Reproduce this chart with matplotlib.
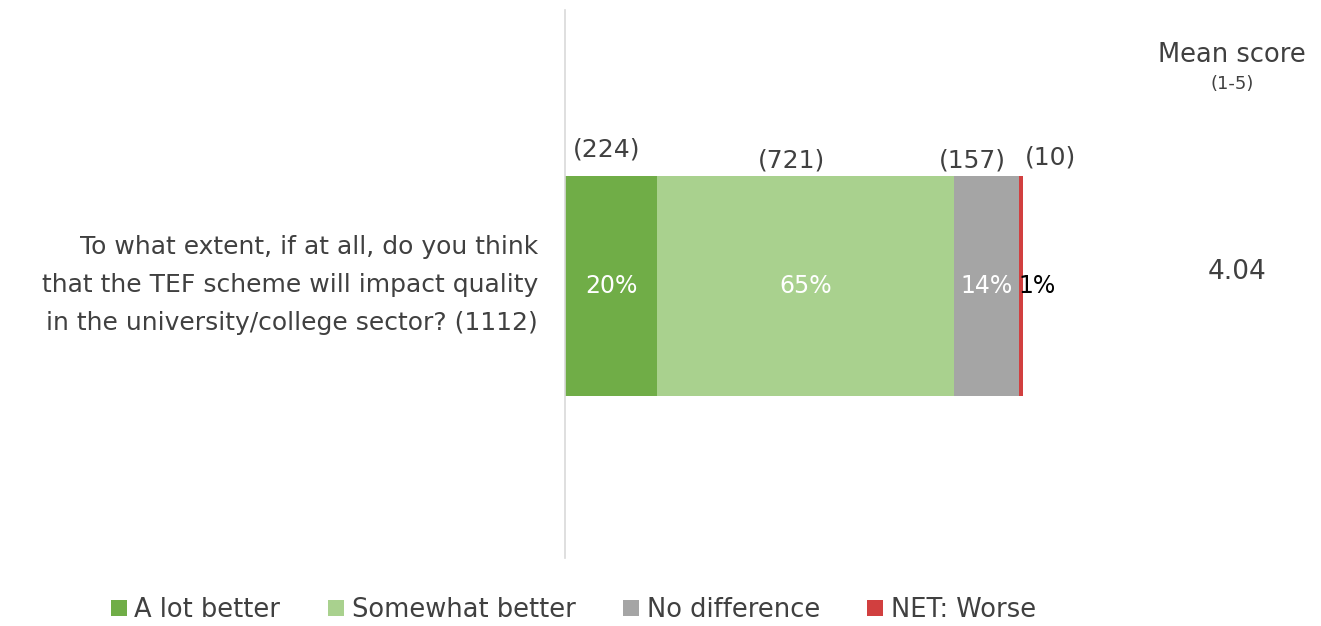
import numpy as np
import matplotlib.pyplot as plt
from matplotlib import font_manager

# data
categories = ["A lot better", "Somewhat better", "No difference", "NET: Worse"]
counts = [224, 721, 157, 10]
pct_labels = ["20%", "65%", "14%", "1%"]
base = 1112
mean_score = "4.04"
question = "To what extent, if at all, do you think\nthat the TEF scheme will impact quality\nin the university/college sector? (1112)"

colors = ["#70AD47", "#A9D18E", "#A5A5A5", "#D13F3F"]
txt = "#404040"

# narrow font for the percentages if there is one
names = set(f.name for f in font_manager.fontManager.ttflist)
if "Liberation Sans Narrow" in names:
    pct_font, pct_size = "Liberation Sans Narrow", 20
else:
    pct_font, pct_size = "DejaVu Sans", 17

shares = np.array(counts) / base

fig = plt.figure(figsize=(13.21, 6.26), dpi=100)
ax = fig.add_axes([565/1321, 68/626, 458/1321, 548/626])
ax.set_xlim(0, 1)
ax.set_ylim(0, 1)

left = 0
bars = []
for i, s in enumerate(shares):
    b = ax.barh(0.4964, s, left=left, height=0.4015, color=colors[i], label=categories[i])
    bars.append(b)
    left += s

starts = np.concatenate([[0], np.cumsum(shares)[:-1]])
mids = starts + shares / 2

# percent labels inside
for i in range(3):
    ax.text(mids[i], 0.4964, pct_labels[i], ha="center", va="center",
            color="white", fontsize=pct_size, family=pct_font)
ax.text(starts[3] - 0.002, 0.4964, pct_labels[3], ha="left", va="center",
        color="black", fontsize=pct_size, family=pct_font, clip_on=False)

# counts above bars
offsets = [-0.01, -0.03, -0.03, 0.065]
ys = [0.745, 0.725, 0.725, 0.73]
for i in range(4):
    ax.text(mids[i] + offsets[i], ys[i], "(%d)" % counts[i], ha="center", va="center",
            color=txt, fontsize=18, clip_on=False)

for sp in ["top", "right", "bottom"]:
    ax.spines[sp].set_visible(False)
ax.spines["left"].set_color("#D9D9D9")
ax.spines["left"].set_linewidth(1.2)
ax.set_xticks([])
ax.set_yticks([])

fig.text(538/1321, 1 - 285/626, question, ha="right", va="center",
         color=txt, fontsize=18, linespacing=1.75)

fig.text(1232/1321, 1 - 55/626, "Mean score", ha="center", va="center", color=txt, fontsize=18.5)
fig.text(1232/1321, 1 - 84/626, "(1-5)", ha="center", va="center", color=txt, fontsize=13)
fig.text(1237/1321, 1 - 272/626, mean_score, ha="center", va="center", color=txt, fontsize=19)

leg = fig.legend(handles=bars, labels=categories, loc="center left",
                 bbox_to_anchor=(98/1321, 1 - 610/626), ncol=4, frameon=False,
                 fontsize=18.5, handlelength=0.62, handleheight=0.62, handletextpad=0.3,
                 columnspacing=1.85, labelcolor=txt, borderpad=0)

fig.savefig("out.png", dpi=100)
